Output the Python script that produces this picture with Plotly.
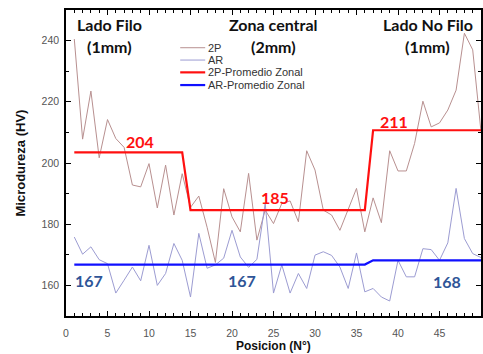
import plotly.graph_objects as go

# ---------------- data ----------------
positions = list(range(1, 51))

hv_2p = [240.5, 207.8, 223.5, 201.7, 214.2, 208.0, 205.1, 192.8, 192.2, 199.8,
         185.3, 199.3, 183.0, 196.5, 185.5, 189.2, 179.0, 167.5, 191.6, 182.4,
         177.5, 196.6, 174.8, 184.6, 180.2, 186.8, 187.6, 180.8, 204.0, 197.7,
         184.6, 183.0, 178.0, 184.6, 191.7, 177.5, 188.6, 180.5, 204.0, 197.4,
         197.4, 206.4, 220.2, 211.8, 213.1, 217.3, 223.8, 242.4, 237.0, 210.2]

hv_ar = [175.8, 170.2, 172.6, 168.4, 167.1, 157.5, 161.7, 166.0, 161.5, 173.1,
         160.0, 163.9, 173.7, 168.2, 156.2, 177.0, 165.6, 166.7, 168.9, 178.0,
         169.3, 165.9, 168.5, 186.8, 157.5, 166.7, 157.5, 163.9, 159.0, 169.9,
         171.0, 169.8, 166.0, 159.0, 170.6, 157.9, 159.0, 156.2, 154.9, 168.2,
         162.8, 162.8, 172.0, 171.7, 168.2, 173.9, 191.7, 175.3, 170.4, 169.1]

# zones: last position of each zone
zone_ends = [14, 36, 50]
zone_names = ["Lado Filo", "Zona central", "Lado No Filo"]
zone_widths = ["(1mm)", "(2mm)", "(1mm)"]
zone_name_x = [5.3, 25.0, 43.6]

zonal_2p = [203.5, 184.6, 210.7]
zonal_ar = [166.8, 166.8, 168.2]
zonal_2p_labels = ["204", "185", "211"]
zonal_ar_labels = ["167", "167", "168"]
label_2p_pos = [(8.9, 207.1), (25.2, 188.7), (39.5, 213.7)]
label_ar_pos = [(2.8, 161.6), (21.2, 161.5), (45.9, 161.2)]

legend_names = ["2P", "AR", "2P-Promedio Zonal", "AR-Promedio Zonal"]
x_title = "Posicion (N°)"
y_title = "Microdureza (HV)"


def zonal_series(values):
    out = []
    for p in positions:
        for end, v in zip(zone_ends, values):
            if p <= end:
                out.append(v)
                break
    return out


C_2P = "#b89090"
C_AR = "#9c9cd2"
C_2PZ = "#ff1010"
C_ARZ = "#1010ff"
C_NUM_BLUE = "#2f5597"

fig = go.Figure()
fig.add_trace(go.Scatter(x=positions, y=hv_2p, mode="lines", name=legend_names[0],
                         line=dict(color=C_2P, width=1), showlegend=False))
fig.add_trace(go.Scatter(x=positions, y=hv_ar, mode="lines", name=legend_names[1],
                         line=dict(color=C_AR, width=1), showlegend=False))
fig.add_trace(go.Scatter(x=positions, y=zonal_series(zonal_2p), mode="lines", name=legend_names[2],
                         line=dict(color=C_2PZ, width=2.2), showlegend=False))
fig.add_trace(go.Scatter(x=positions, y=zonal_series(zonal_ar), mode="lines", name=legend_names[3],
                         line=dict(color=C_ARZ, width=2.2), showlegend=False))

annotations = []
hdr_font = dict(family="Lato", size=16, color="#111111")
for nm, wd, xc in zip(zone_names, zone_widths, zone_name_x):
    annotations.append(dict(x=xc, y=245.1, xref="x", yref="y", text="<b>%s</b>" % nm,
                            showarrow=False, font=hdr_font, xanchor="center", yanchor="middle"))
    annotations.append(dict(x=xc, y=238.1, xref="x", yref="y", text="<b>%s</b>" % wd,
                            showarrow=False, font=hdr_font, xanchor="center", yanchor="middle"))

for lab, (lx, ly) in zip(zonal_2p_labels, label_2p_pos):
    annotations.append(dict(x=lx, y=ly, xref="x", yref="y", text="<b>%s</b>" % lab,
                            showarrow=False, font=dict(family="Lato", size=16, color=C_2PZ)))
for lab, (lx, ly) in zip(zonal_ar_labels, label_ar_pos):
    annotations.append(dict(x=lx, y=ly, xref="x", yref="y", text="<b>%s</b>" % lab,
                            showarrow=False, font=dict(family="Lato", size=16, color=C_NUM_BLUE)))

# axis titles placed precisely
title_font = dict(family="Liberation Sans, Arial", size=12, color="#111111")
annotations.append(dict(x=0.5, y=-0.099, xref="paper", yref="paper", text="<b>%s</b>" % x_title,
                        showarrow=False, xanchor="center", yanchor="middle", font=title_font,
                        borderpad=0))
annotations.append(dict(x=-0.112, y=0.5, xref="paper", yref="paper", text="<b>%s</b>" % y_title,
                        showarrow=False, xanchor="center", yanchor="middle", textangle=-90,
                        font=dict(family="Liberation Sans, Arial", size=13, color="#111111")))

# manual legend (compact rows like the reference)
leg_colors = [C_2P, C_AR, C_2PZ, C_ARZ]
leg_widths = [1, 1, 2.2, 2.2]
leg_rows = [0.8767, 0.8364, 0.7962, 0.7547]
shapes = []
for nm, col, w, ry in zip(legend_names, leg_colors, leg_widths, leg_rows):
    shapes.append(dict(type="line", xref="paper", yref="paper", x0=0.2752, x1=0.3354,
                       y0=ry, y1=ry, line=dict(color=col, width=w)))
    annotations.append(dict(x=0.338, y=ry, xref="paper", yref="paper", text=nm,
                            showarrow=False, xanchor="left", yanchor="middle",
                            font=dict(family="Liberation Sans, Arial", size=11, color="#333333")))

axis_common = dict(
    showline=True, linecolor="black", linewidth=1.5, mirror="ticks",
    ticks="inside", ticklen=5, tickwidth=1.2, tickcolor="black",
    showgrid=False, zeroline=False, automargin=False,
    tickfont=dict(family="Liberation Sans, Arial", size=10.5, color="#555555"),
)

fig.update_layout(
    width=483, height=354,
    margin=dict(l=65.7, r=2, t=10, b=38.3),
    paper_bgcolor="white", plot_bgcolor="white",
    showlegend=False,
    annotations=annotations,
    shapes=shapes,
    xaxis=dict(range=[0, 50], dtick=5, tick0=0,
               minor=dict(dtick=1, ticks="inside", ticklen=3, tickcolor="black", tickwidth=1),
               ticklabelstandoff=7,
               **axis_common),
    yaxis=dict(range=[150, 250], dtick=20, tick0=160,
               minor=dict(dtick=10, ticks="inside", ticklen=3, tickcolor="black", tickwidth=1),
               ticklabelstandoff=3,
               **axis_common),
)

fig.write_html("out.html",
               config={"displayModeBar": False},
               post_script="document.body.style.margin='0';document.body.style.padding='0';"
                           "document.body.style.overflow='hidden';")
